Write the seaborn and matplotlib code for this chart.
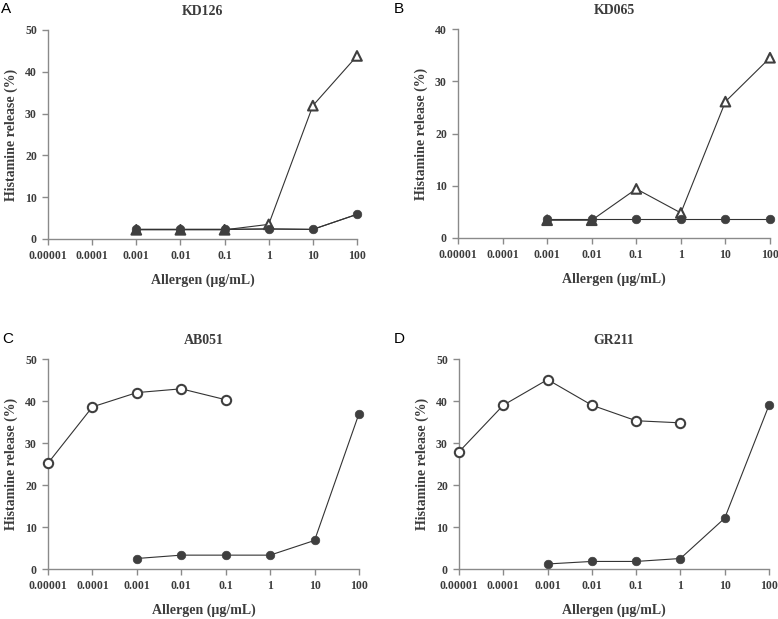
import numpy as np
import pandas as pd
import matplotlib
matplotlib.use("Agg")
import matplotlib.pyplot as plt
import seaborn as sns

# ---------------- data ----------------
dose_ticks = [0.00001, 0.0001, 0.001, 0.01, 0.1, 1, 10, 100]
tick_labels = ["0.00001", "0.0001", "0.001", "0.01", "0.1", "1", "10", "100"]

# Panel A: KD126
a_title = "KD126"
a_circle_x = [0.001, 0.01, 0.1, 1, 10, 100]
a_circle_y = [2.3, 2.3, 2.3, 2.4, 2.3, 5.9]
a_tri_x = [0.001, 0.01, 0.1, 1, 10, 100]
a_tri_y = [2.2, 2.2, 2.2, 3.5, 31.9, 43.8]

# Panel B: KD065
b_title = "KD065"
b_circle_x = [0.001, 0.01, 0.1, 1, 10, 100]
b_circle_y = [3.6, 3.6, 3.6, 3.6, 3.6, 3.6]
b_tri_x = [0.001, 0.01, 0.1, 1, 10, 100]
b_tri_y = [3.4, 3.4, 9.4, 4.8, 26.1, 34.5]

# Panel C: AB051
c_title = "AB051"
c_open_x = [0.00001, 0.0001, 0.001, 0.01, 0.1]
c_open_y = [25.2, 38.6, 42.0, 42.9, 40.3]
c_filled_x = [0.001, 0.01, 0.1, 1, 10, 100]
c_filled_y = [2.5, 3.3, 3.3, 3.3, 6.8, 37.0]

# Panel D: GR211
d_title = "GR211"
d_open_x = [0.00001, 0.0001, 0.001, 0.01, 0.1, 1]
d_open_y = [27.9, 39.0, 45.1, 39.0, 35.3, 34.8]
d_filled_x = [0.001, 0.01, 0.1, 1, 10, 100]
d_filled_y = [1.2, 1.8, 1.8, 2.5, 12.1, 39.0]

y_max = {"A": 50, "B": 40, "C": 50, "D": 50}

# ---------------- style ----------------
sns.set_theme(style="ticks")
plt.rcParams["font.family"] = ["Liberation Serif", "DejaVu Serif"]
TXT = "#3c3c3c"
SPINE = "#8a8a8a"
LINE = "#333333"
MK = "#3f3f3f"

fig = plt.figure(figsize=(7.78, 6.19), dpi=100)
W, H = 778, 619


def make_ax(l, r, t, b):
    return fig.add_axes([l / W, 1 - b / H, (r - l) / W, (b - t) / H])


axA = make_ax(48, 357, 30, 239)
axB = make_ax(458, 770, 29, 238)
axC = make_ax(48, 359, 359, 569)
axD = make_ax(459, 769, 359, 569)


def style_ax(ax, title, ymax):
    ax.set_xscale("log")
    ax.set_xlim(dose_ticks[0], dose_ticks[-1])
    ax.set_ylim(0, ymax)
    ax.set_xticks(dose_ticks)
    ax.set_xticklabels(tick_labels)
    ax.minorticks_off()
    ax.set_yticks(np.arange(0, ymax + 1, 10))
    for s in ["top", "right"]:
        ax.spines[s].set_visible(False)
    for s in ["left", "bottom"]:
        ax.spines[s].set_color(SPINE)
        ax.spines[s].set_linewidth(1.0)
    ax.tick_params(axis="both", colors=SPINE, length=4, width=1.0,
                   labelsize=8.5, labelcolor=TXT, pad=4)
    for lab in ax.get_xticklabels() + ax.get_yticklabels():
        lab.set_fontweight("bold")
    ax.set_xlabel("Allergen (\u00b5g/mL)", fontsize=10, fontweight="bold",
                  color=TXT, labelpad=8)
    ax.set_ylabel("Histamine release (%)", fontsize=10, fontweight="bold",
                  color=TXT, labelpad=5)
    ax.set_title(title, fontsize=10, fontweight="bold", color=TXT, pad=11)


def line(ax, x, y):
    sns.lineplot(x=x, y=y, ax=ax, color=LINE, linewidth=0.8,
                 estimator=None, sort=False, legend=False)


def filled_circles(ax, x, y):
    line(ax, x, y)
    sns.scatterplot(x=x, y=y, ax=ax, marker="o", s=38, color=MK,
                    edgecolor=MK, linewidth=0.5, legend=False, zorder=4,
                    clip_on=False)


def open_circles(ax, x, y):
    line(ax, x, y)
    sns.scatterplot(x=x, y=y, ax=ax, marker="o", s=45, facecolor="white",
                    edgecolor=MK, linewidth=1.5, legend=False, zorder=4,
                    clip_on=False)


def triangles(ax, x, y, ref_x, ref_y):
    line(ax, x, y)
    ref = dict(zip(ref_x, ref_y))
    overlap = [abs(ref.get(xx, -99) - yy) < 0.6 for xx, yy in zip(x, y)]
    df = pd.DataFrame({"x": x, "y": y, "ov": overlap})
    sns.scatterplot(data=df, x="x", y="y", hue="ov",
                    palette={True: MK, False: "white"}, marker="^", s=48,
                    edgecolor=MK, linewidth=1.5, legend=False, zorder=3,
                    clip_on=False, ax=ax)


# Panel A
line(axA, a_circle_x, a_circle_y)
triangles(axA, a_tri_x, a_tri_y, a_circle_x, a_circle_y)
filled_circles(axA, a_circle_x, a_circle_y)
style_ax(axA, a_title, y_max["A"])

# Panel B
triangles(axB, b_tri_x, b_tri_y, b_circle_x, b_circle_y)
filled_circles(axB, b_circle_x, b_circle_y)
style_ax(axB, b_title, y_max["B"])

# Panel C
open_circles(axC, c_open_x, c_open_y)
filled_circles(axC, c_filled_x, c_filled_y)
style_ax(axC, c_title, y_max["C"])

# Panel D
open_circles(axD, d_open_x, d_open_y)
filled_circles(axD, d_filled_x, d_filled_y)
style_ax(axD, d_title, y_max["D"])

# panel letters
for letter, (px, py) in {"A": (1, 9), "B": (394, 9), "C": (2, 339), "D": (394, 339)}.items():
    fig.text(px / W, 1 - py / H, letter, fontsize=11, color="black",
             family=["Liberation Sans", "DejaVu Sans"], ha="left", va="center")

fig.savefig("out.png", dpi=100)
